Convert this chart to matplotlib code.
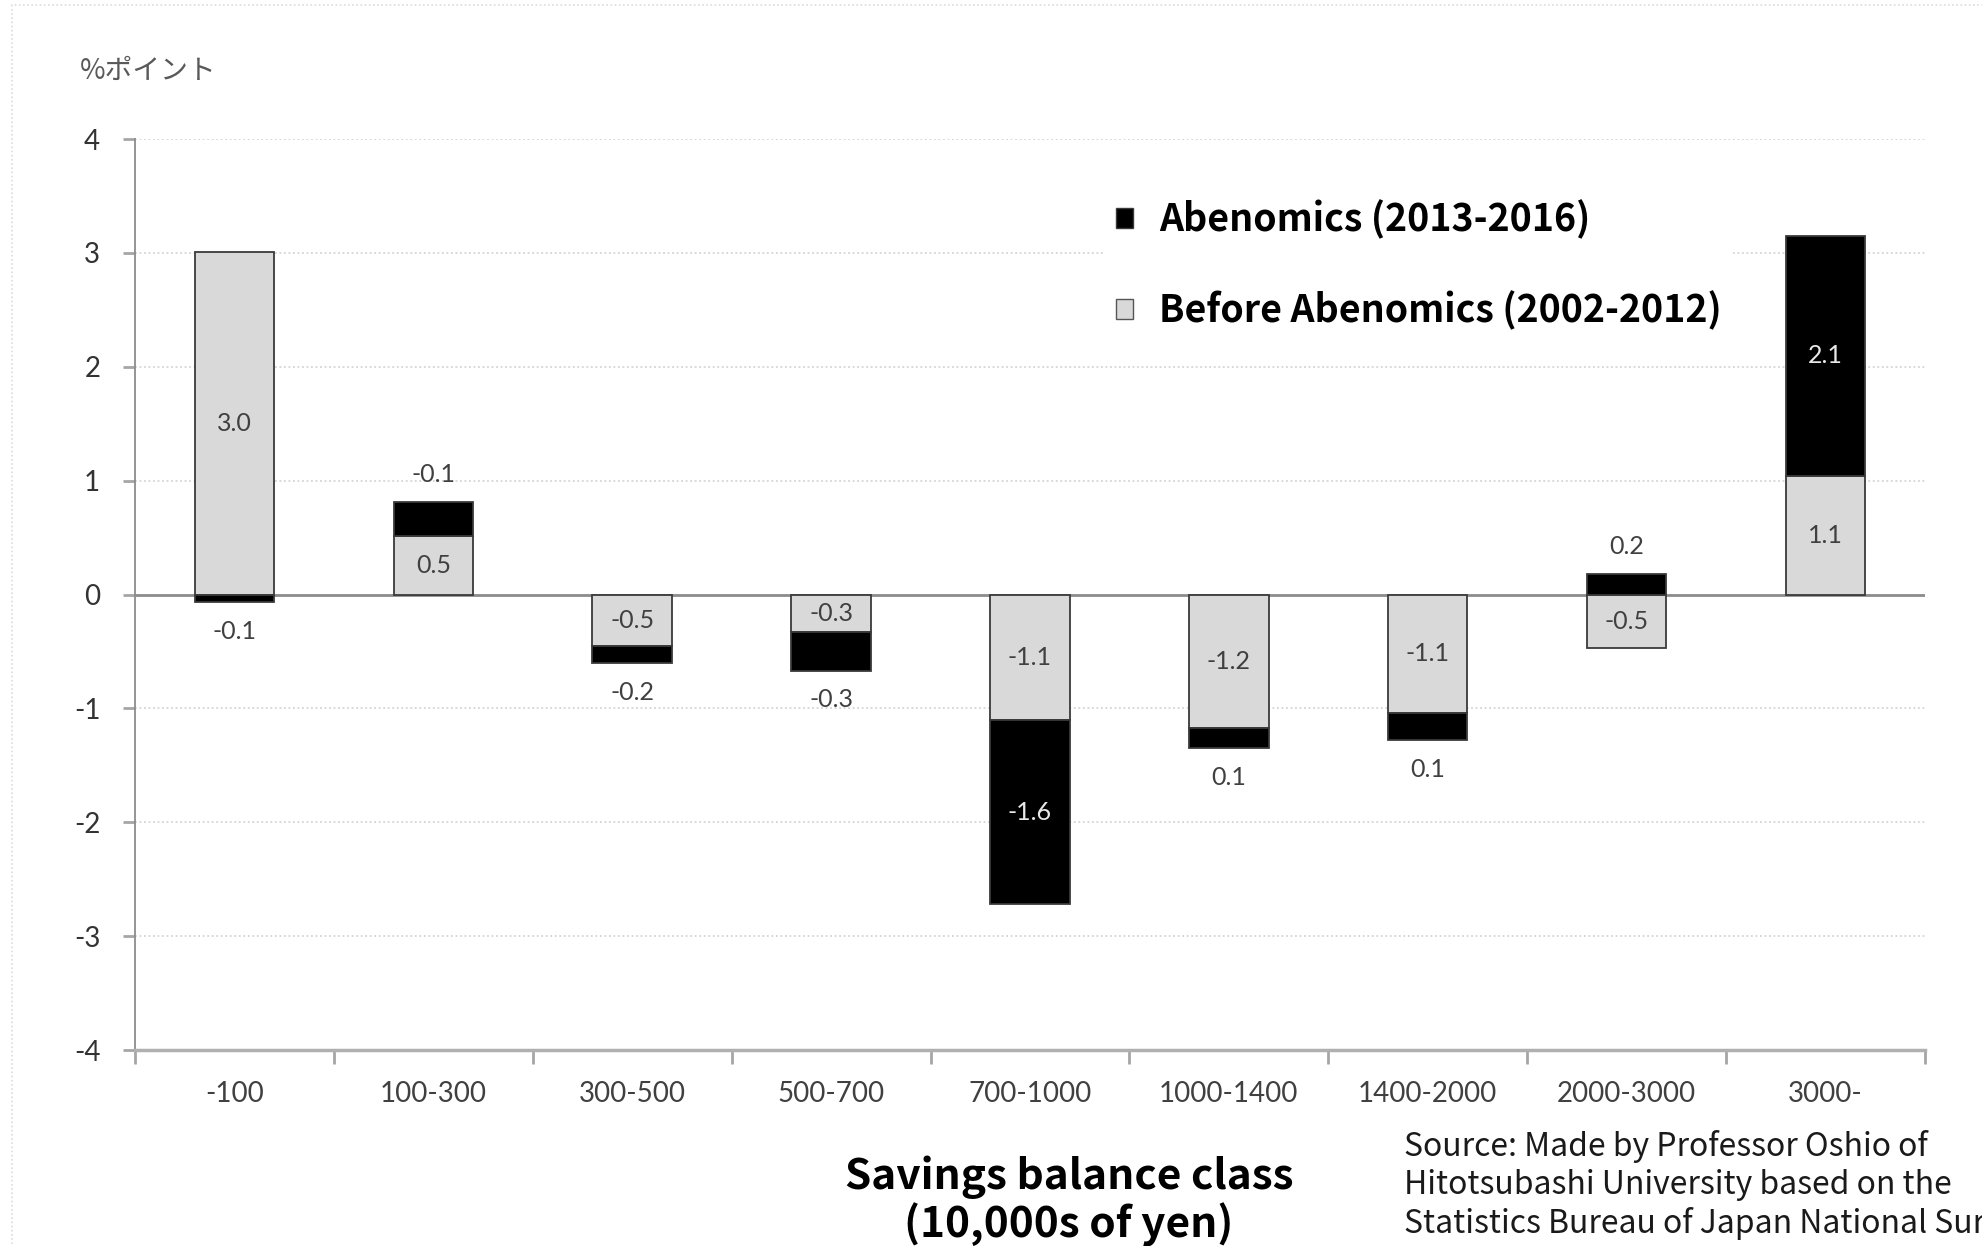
import matplotlib
matplotlib.use("Agg")
import matplotlib.pyplot as plt
from matplotlib.patches import Patch, Rectangle
import numpy as np

# savings balance classes (10,000s of yen)
categories = ["-100", "100-300", "300-500", "500-700", "700-1000",
              "1000-1400", "1400-2000", "2000-3000", "3000-"]

# bar segments as drawn (percentage points)
before_vals = [3.01, 0.51, -0.45, -0.33, -1.10, -1.17, -1.04, -0.47, 1.04]
abe_vals = [-0.07, 0.30, -0.15, -0.34, -1.62, -0.18, -0.24, 0.18, 2.11]

# data labels as printed on the chart
before_labels = ["3.0", "0.5", "-0.5", "-0.3", "-1.1", "-1.2", "-1.1", "-0.5", "1.1"]
abe_labels = ["-0.1", "-0.1", "-0.2", "-0.3", "-1.6", "0.1", "0.1", "0.2", "2.1"]

y_ticks = [-4, -3, -2, -1, 0, 1, 2, 3, 4]

LAT = "Lato"
JP = ["Noto Sans CJK JP", "DejaVu Sans"]
GRAY = "#d9d9d9"
TXT = "#404040"

fig = plt.figure(figsize=(19.82, 12.46), dpi=100)
ax = fig.add_axes([0.0681, 0.1573, 0.9031, 0.7311])

x = np.arange(len(categories))
bottoms = [b if np.sign(a) == np.sign(b) else 0 for a, b in zip(abe_vals, before_vals)]

ax.bar(x, before_vals, width=0.4, color=GRAY, edgecolor="#3a3a3a", linewidth=1.3, zorder=3)
ax.bar(x, abe_vals, bottom=bottoms, width=0.4, color="black", edgecolor="#3a3a3a",
       linewidth=1.3, zorder=3)

# labels for the grey segments sit in the middle
for xi, v, lab in zip(x, before_vals, before_labels):
    ax.text(xi, v / 2, lab, ha="center", va="center", fontsize=18, family=LAT,
            color=TXT, zorder=4)

# labels for the black segments: inside when tall, outside otherwise
for xi, v, b, lab in zip(x, abe_vals, bottoms, abe_labels):
    if abs(v) >= 0.5:
        ax.text(xi, b + v / 2, lab, ha="center", va="center", fontsize=18,
                family=LAT, color="#e8e8e8", zorder=4)
    else:
        end = b + v
        off = 20 if v > 0 else -21
        ax.annotate(lab, (xi, end), xytext=(0, off), textcoords="offset points",
                    ha="center", va="center", fontsize=18, family=LAT, color=TXT, zorder=4)

ax.axhline(0, color="#8c8c8c", linewidth=2, zorder=2)

ax.set_xlim(-0.5, len(categories) - 0.5)
ax.set_ylim(-4, 4)
ax.set_yticks(y_ticks)
ax.set_yticklabels([str(t) for t in y_ticks])
ax.yaxis.grid(True, linestyle=(0, (1, 1.5)), color="#d4d4d4", linewidth=1.3, zorder=0)

ax.set_xticks(x)
ax.set_xticklabels(categories)
ax.set_xticks(np.arange(-0.5, len(categories)), minor=True)
ax.tick_params(axis="x", which="major", length=0, pad=22, labelsize=20, labelcolor=TXT)
ax.tick_params(axis="x", which="minor", length=10, width=2, color="#a6a6a6")
ax.tick_params(axis="y", length=9, width=2, color="#a6a6a6", pad=16,
               labelsize=20, labelcolor="#333333")
for lab in ax.get_xticklabels() + ax.get_yticklabels():
    lab.set_family(LAT)

for s in ("top", "right"):
    ax.spines[s].set_visible(False)
ax.spines["left"].set_color("#8c8c8c")
ax.spines["left"].set_linewidth(1.3)
ax.spines["bottom"].set_color("#b0b0b0")
ax.spines["bottom"].set_linewidth(2.5)

handles = [Patch(facecolor="black", edgecolor="#3a3a3a"),
           Patch(facecolor=GRAY, edgecolor="#555555")]
leg = ax.legend(handles, ["Abenomics (2013-2016)", "Before Abenomics (2002-2012)"],
                loc="upper left", bbox_to_anchor=(1086 / 1982, 1 - 170 / 1246),
                bbox_transform=fig.transFigure, frameon=True, facecolor="white",
                edgecolor="none", framealpha=1, handlelength=0.45, handleheight=0.45,
                handletextpad=0.7, labelspacing=1.35, borderpad=0.3,
                prop={"family": JP, "weight": "bold", "size": 27})
leg.set_zorder(5)

fig.text(80 / 1982, 1 - 71 / 1246, "%ポイント", family=JP, fontsize=20,
         color="#595959", va="center", ha="left")

fig.text(1069 / 1982, 1 - 1201 / 1246, "Savings balance class\n(10,000s of yen)",
         family=JP, weight="bold", fontsize=30.5, ha="center", va="center",
         linespacing=1.1)

# source note runs off the right edge, as in the original
fig.text(1404 / 1982, 1 - 1130 / 1246,
         "Source: Made by Professor Oshio of\nHitotsubashi University based on the\n"
         "Statistics Bureau of Japan National Survey",
         family=JP, fontsize=23, ha="left", va="top", color="#1a1a1a",
         linespacing=1.23)

fig.patches.append(Rectangle((12 / 1982, -0.1), 1.2, 1 - 5 / 1246 + 0.1,
                             transform=fig.transFigure, fill=False,
                             edgecolor="#dcdcdc", linestyle=(0, (1, 1.5)), linewidth=1.2))

fig.savefig("out.png", dpi=100)
